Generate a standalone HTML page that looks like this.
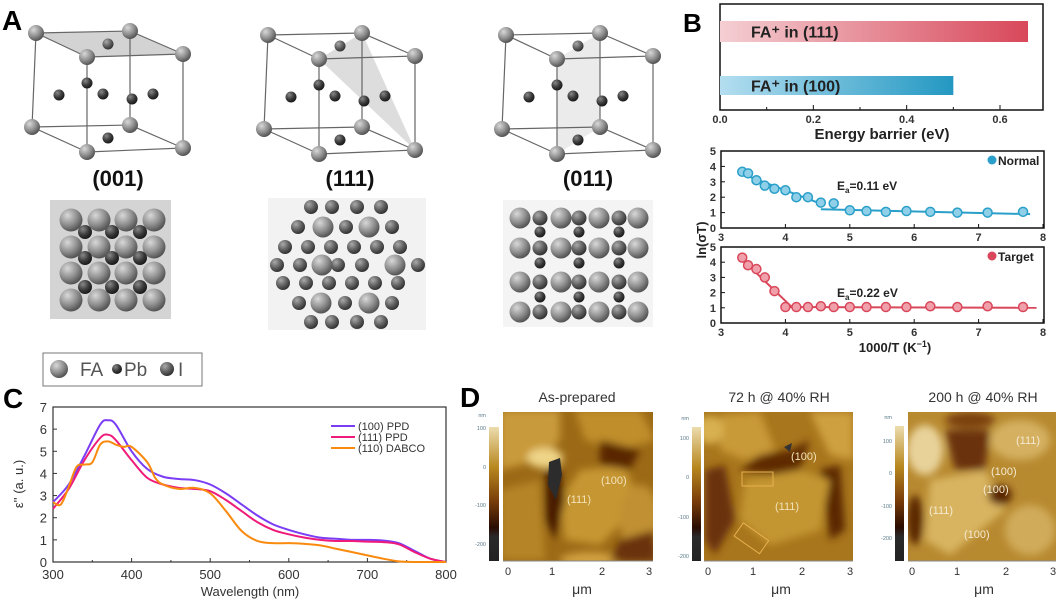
<!DOCTYPE html>
<html><head><meta charset="utf-8"><style>
html,body{margin:0;padding:0;background:#fff;}
svg{display:block;font-family:"Liberation Sans",sans-serif;}
</style></head><body>
<svg id="root" width="1059" height="600" viewBox="0 0 1059 600">
<defs>
<radialGradient id="gBig" cx="35%" cy="30%" r="70%"><stop offset="0" stop-color="#d8d8d8"/><stop offset="0.6" stop-color="#8e8e8e"/><stop offset="1" stop-color="#555"/></radialGradient>
<radialGradient id="gDark" cx="35%" cy="30%" r="70%"><stop offset="0" stop-color="#888"/><stop offset="0.6" stop-color="#3a3a3a"/><stop offset="1" stop-color="#1a1a1a"/></radialGradient>
<radialGradient id="gMid" cx="35%" cy="30%" r="70%"><stop offset="0" stop-color="#aaa"/><stop offset="0.6" stop-color="#5e5e5e"/><stop offset="1" stop-color="#333"/></radialGradient>
<linearGradient id="barRed" x1="0" x2="1"><stop offset="0" stop-color="#f4cfd3"/><stop offset="1" stop-color="#d8485a"/></linearGradient>
<linearGradient id="barBlue" x1="0" x2="1"><stop offset="0" stop-color="#b4def0"/><stop offset="1" stop-color="#2398c2"/></linearGradient>
<linearGradient id="cbar" x1="0" y1="0" x2="0" y2="1"><stop offset="0" stop-color="#ecdcae"/><stop offset="0.3" stop-color="#b8881f"/><stop offset="0.55" stop-color="#7a3e0a"/><stop offset="0.75" stop-color="#2a0c02"/><stop offset="0.82" stop-color="#2a2a2a"/><stop offset="1" stop-color="#222"/></linearGradient>
<filter id="blur4"><feGaussianBlur stdDeviation="4"/></filter>
<clipPath id="c1"><rect x="503" y="412" width="150" height="149"/></clipPath>
<clipPath id="c2"><rect x="704" y="412" width="149" height="149"/></clipPath>
<clipPath id="c3"><rect x="908" y="412" width="148" height="149"/></clipPath>
</defs>

<text x="2" y="30" font-size="28" font-weight="bold">A</text>
<text x="683" y="32" font-size="26" font-weight="bold">B</text>
<text x="3" y="408" font-size="28" font-weight="bold">C</text>
<text x="460" y="407" font-size="28" font-weight="bold">D</text>

<g id="panelA"></g>
<g id="panelB"></g>
<g id="panelC"></g>

<g>
  <text x="577" y="402" font-size="14" text-anchor="middle" fill="#333">As-prepared</text>
  <text x="779" y="402" font-size="14" text-anchor="middle" fill="#333">72 h @ 40% RH</text>
  <text x="983" y="402" font-size="14" text-anchor="middle" fill="#333">200 h @ 40% RH</text>

  <g clip-path="url(#c1)">
    <rect x="503" y="412" width="150" height="149" fill="#9c6a16"/>
    <g filter="url(#blur4)">
      <path d="M500 410 L560 410 L560 440 L540 460 L500 470Z" fill="#c99a3a"/>
      <ellipse cx="545" cy="458" rx="18" ry="10" fill="#efd487"/>
      <path d="M575 410 L640 410 L655 440 L620 450 L585 440Z" fill="#c08e2a"/>
      <path d="M580 470 L625 465 L640 505 L600 545 L565 540 L560 500Z" fill="#c69630"/>
      <path d="M500 490 L540 480 L545 560 L500 560Z" fill="#b58425"/>
      <ellipse cx="640" cy="520" rx="20" ry="35" fill="#c09030"/>
      <ellipse cx="590" cy="560" rx="30" ry="8" fill="#d0a040"/>
      <path d="M600 440 L640 450 L630 470 L600 465Z" fill="#5a2606"/>
      <path d="M545 470 L560 468 L565 500 L555 540 L545 520Z" fill="#4a1c04"/>
      <path d="M620 540 L655 530 L655 561 L610 561Z" fill="#6a330a"/>
    </g>
    <path d="M549 462 L560 458 L562 475 L556 500 L548 485Z" fill="#2c2c2c"/>
    <text x="601" y="484" font-size="11" fill="#f2e2b8">(100)</text>
    <text x="567" y="503" font-size="11" fill="#f2e2b8">(111)</text>
  </g>
  <g clip-path="url(#c2)">
    <rect x="704" y="412" width="149" height="149" fill="#a8761c"/>
    <g filter="url(#blur4)">
      <path d="M720 415 L760 412 L775 450 L745 460 L720 450Z" fill="#c99a38"/>
      <path d="M810 412 L853 412 L853 460 L830 455Z" fill="#cfa040"/>
      <path d="M740 470 L760 455 L790 450 L810 440 L800 470 L770 475Z" fill="#5e2a06"/>
      <path d="M705 470 L725 465 L735 520 L715 555 L705 540Z" fill="#6a3008"/>
      <path d="M820 470 L840 465 L845 530 L830 540Z" fill="#5a2606"/>
      <path d="M745 480 L800 470 L830 480 L820 530 L770 545 L740 520Z" fill="#c49632"/>
      <ellipse cx="710" cy="430" rx="14" ry="14" fill="#d8b050"/>
    </g>
    <path d="M784 447 L792 443 L790 452Z" fill="#333"/>
    <rect x="742" y="472" width="31" height="14" fill="none" stroke="#e8b050" stroke-width="1"/>
    <rect x="736" y="530" width="31" height="16" fill="none" stroke="#e8b050" stroke-width="1" transform="rotate(35 751 538)"/>
    <text x="791" y="460" font-size="11" fill="#f2e2b8">(100)</text>
    <text x="775" y="510" font-size="11" fill="#f2e2b8">(111)</text>
  </g>
  <g clip-path="url(#c3)">
    <rect x="908" y="412" width="148" height="149" fill="#b88a30"/>
    <g filter="url(#blur4)">
      <ellipse cx="925" cy="450" rx="18" ry="25" fill="#e8d29a"/>
      <path d="M945 430 L990 430 L985 470 L955 470Z" fill="#6a3008"/>
      <path d="M930 480 L985 470 L1005 510 L950 555 L925 540Z" fill="#d8b460"/>
      <ellipse cx="1020" cy="440" rx="30" ry="20" fill="#d4b060"/>
      <ellipse cx="1000" cy="495" rx="12" ry="10" fill="#5a2606"/>
      <ellipse cx="915" cy="520" rx="8" ry="25" fill="#5a2606"/>
      <ellipse cx="1030" cy="530" rx="25" ry="25" fill="#d0ab5a"/>
      <ellipse cx="970" cy="420" rx="25" ry="8" fill="#7a4010"/>
    </g>
    <text x="1016" y="444" font-size="11" fill="#f5ead0">(111)</text>
    <text x="991" y="475" font-size="11" fill="#f5ead0">(100)</text>
    <text x="983" y="493" font-size="11" fill="#f5ead0">(100)</text>
    <text x="929" y="514" font-size="11" fill="#f5ead0">(111)</text>
    <text x="964" y="538" font-size="11" fill="#f5ead0">(100)</text>
  </g>
  <rect x="489" y="427" width="10" height="134" fill="url(#cbar)"/>
  <rect x="692" y="427" width="9" height="134" fill="url(#cbar)"/>
  <rect x="895" y="426" width="9" height="135" fill="url(#cbar)"/>
  <g font-size="5.5" fill="#5a7a8a" text-anchor="end">
    <text x="486" y="417">nm</text><text x="486" y="430">100</text><text x="486" y="469">0</text><text x="486" y="507">-100</text><text x="486" y="546">-200</text>
    <text x="689" y="420">nm</text><text x="689" y="440">100</text><text x="689" y="479">0</text><text x="689" y="519">-100</text><text x="689" y="558">-200</text>
    <text x="892" y="419">nm</text><text x="892" y="443">100</text><text x="892" y="475">0</text><text x="892" y="508">-100</text><text x="892" y="540">-200</text>
  </g>
  <g font-size="11" fill="#333" text-anchor="middle">
    <text x="508" y="575">0</text><text x="552" y="575">1</text><text x="602" y="575">2</text><text x="649" y="575">3</text>
    <text x="708" y="575">0</text><text x="753" y="575">1</text><text x="802" y="575">2</text><text x="850" y="575">3</text>
    <text x="912" y="575">0</text><text x="957" y="575">1</text><text x="1006" y="575">2</text><text x="1053" y="575">3</text>
    <text x="582" y="594" font-size="14">μm</text>
    <text x="781" y="594" font-size="14">μm</text>
    <text x="984" y="594" font-size="14">μm</text>
  </g>
  <g stroke="#888" stroke-width="1">
    <line x1="503" y1="561" x2="653" y2="561"/><line x1="704" y1="561" x2="853" y2="561"/><line x1="908" y1="561" x2="1056" y2="561"/>
  </g>
</g>
</svg>

<script>
// ---------- Panel B data ----------
const barCats = ["FA⁺ in (111)", "FA⁺ in (100)"];
const barVals = [0.66, 0.50];
const barTicks = [0.0, 0.2, 0.4, 0.6];
const lnTicksX = [3, 4, 5, 6, 7, 8];
const lnTicksY = [0, 1, 2, 3, 4, 5];
const invT = [3.33,3.42,3.55,3.68,3.83,4.0,4.17,4.35,4.55,4.75,5.0,5.26,5.56,5.88,6.25,6.67,7.14,7.69];
const normalVals = [3.65,3.55,3.1,2.75,2.55,2.45,2.0,2.0,1.65,1.6,1.15,1.1,1.05,1.1,1.05,1.0,1.0,1.05];
const targetVals = [4.3,3.8,3.55,3.0,2.1,1.05,1.05,1.05,1.1,1.05,1.05,1.05,1.05,1.05,1.1,1.05,1.1,1.05];
const normalFitX = [3.3, 4.6, 4.55, 7.8];
const normalFitY = [3.55, 1.5, 1.22, 0.9];
const targetFitX = [3.3, 4.1, 4.0, 7.9];
const targetFitY = [4.3, 1.05, 1.05, 1.0];
// ---------- Panel C data ----------
const wl100 = [300,320,340,360,370,380,400,420,440,460,480,500,520,540,560,580,600,620,640,660,680,700,720,740,760,780,800];
const ppd100 = [2.7,3.5,4.8,6.2,6.4,6.2,5.0,4.2,3.85,3.75,3.7,3.5,3.1,2.6,2.1,1.7,1.45,1.25,1.1,1.05,1.0,1.0,0.97,0.85,0.5,0.15,0];
const ppd111 = [2.4,3.3,4.6,5.6,5.75,5.5,4.6,3.8,3.5,3.35,3.3,3.2,2.8,2.3,1.8,1.45,1.25,1.1,1.0,0.95,0.95,0.92,0.9,0.8,0.45,0.15,0];
const wlDabco = [300,310,320,330,340,350,360,370,380,390,400,420,430,440,460,480,500,520,540,560,580,600,620,640,660,680,700,720,740,760,800];
const dabco = [2.7,2.6,3.4,4.3,4.4,4.5,5.3,5.45,5.3,5.2,5.2,4.5,3.8,3.5,3.3,3.35,3.1,2.3,1.4,0.95,0.85,0.85,0.82,0.75,0.6,0.45,0.3,0.15,0.03,0,0];
const cTicksX = [300,400,500,600,700,800];
const cTicksY = [0,1,2,3,4,5,6,7];
const cSeriesNames = ["(100) PPD","(111) PPD","(110) DABCO"];

const NS = "http://www.w3.org/2000/svg";
function mk(tag, attrs, parent, txt){const e=document.createElementNS(NS,tag);for(const k in attrs)e.setAttribute(k,attrs[k]);if(txt!==undefined)e.textContent=txt;parent.appendChild(e);return e;}
function smooth(pts){let d="M"+pts[0][0]+" "+pts[0][1];for(let i=0;i<pts.length-1;i++){const p0=pts[i-1]||pts[i],p1=pts[i],p2=pts[i+1],p3=pts[i+2]||p2;const c1=[p1[0]+(p2[0]-p0[0])/6,p1[1]+(p2[1]-p0[1])/6],c2=[p2[0]-(p3[0]-p1[0])/6,p2[1]-(p3[1]-p1[1])/6];d+=" C"+c1[0]+" "+c1[1]+" "+c2[0]+" "+c2[1]+" "+p2[0]+" "+p2[1];}return d;}

// ---------- Panel A ----------
(function(){
  const g=document.getElementById("panelA");
  const base={BTL:[36,33],BTR:[130,31],FTL:[87,57],FTR:[183,54],BBL:[32,127],BBR:[130,125],FBL:[87,152],FBR:[183,148]};
  const inner=[[108,44,"gMid"],[87,83,"gDark"],[59,95,"gDark"],[103,94,"gDark"],[132,99,"gDark"],[153,94,"gDark"],[108,138,"gDark"]];
  const offs=[0,232,470];const labels=["(001)","(111)","(011)"];
  offs.forEach((ox,ci)=>{
    const c={};for(const k in base)c[k]=[base[k][0]+ox,base[k][1]+(ci?2:0)];
    const cube=mk("g",{},g);
    
    
    const P=a=>a.map(k=>c[k].join(",")).join(" ");
    if(ci===0)mk("polygon",{points:P(["BTL","BTR","FTR","FTL"]),fill:"#c8c8c8",opacity:0.8},cube);
    if(ci===1)mk("polygon",{points:P(["FTL","BTR","FBR"]),fill:"#d4d4d4",opacity:0.8},cube);
    if(ci===2)mk("polygon",{points:P(["FTL","BTR","BBR","FBL"]),fill:"#e6e6e6",opacity:0.8},cube);
    const edges=[["BTL","BTR"],["BTR","FTR"],["FTR","FTL"],["FTL","BTL"],["BBL","BBR"],["BBR","FBR"],["FBR","FBL"],["FBL","BBL"],["BTL","BBL"],["BTR","BBR"],["FTL","FBL"],["FTR","FBR"]];
    edges.forEach(e=>mk("line",{x1:c[e[0]][0],y1:c[e[0]][1],x2:c[e[1]][0],y2:c[e[1]][1],stroke:"#666","stroke-width":1.2},cube));
    inner.forEach(p=>mk("circle",{cx:p[0]+ox,cy:p[1]+(ci?2:0),r:5.5,fill:"url(#"+p[2]+")"},cube));
    for(const k in c)mk("circle",{cx:c[k][0],cy:c[k][1],r:8,fill:"url(#gBig)"},cube);
    const t=mk("text",{x:118+ox,y:186,"font-size":22,"font-weight":"bold","text-anchor":"middle",fill:"#111"},g,labels[ci]);
    
    
  });
  const s1=mk("g",{},g);
  
  
  mk("rect",{x:50,y:200,width:121,height:119,fill:"#d4d4d4"},s1);
  [71,99,126,154].forEach(x=>[220,247,273,300].forEach(y=>mk("circle",{cx:x,cy:y,r:11.5,fill:"url(#gBig)"},s1)));
  [85,112,140].forEach(x=>[232,258,287].forEach(y=>mk("circle",{cx:x,cy:y,r:7,fill:"url(#gDark)"},s1)));
  const s2=mk("g",{},g);
  
  
  mk("rect",{x:268,y:198,width:158,height:132,fill:"#f2f2f2"},s2);
  const rows=[[207,[311,332,357,381],[]],[227,[298,346,392],[323,369]],[247,[285,308,331,354,377,400],[]],[265,[277,300,338,362,418],[322,395]],[283,[283,306,329,352,375,398],[]],[303,[299,345,392],[321,369]],[322,[311,332,357,381],[]]];
  rows.forEach(r=>{r[1].forEach(x=>mk("circle",{cx:x,cy:r[0],r:7,fill:"url(#gMid)"},s2));r[2].forEach(x=>mk("circle",{cx:x,cy:r[0],r:10.5,fill:"url(#gBig)"},s2));});
  const s3=mk("g",{},g);
  
  
  mk("rect",{x:503,y:200,width:150,height:127,fill:"#f4f4f4"},s3);
  const cx3=[520,540,561,579,599,619,638];
  [218,248,282,312].forEach(y=>cx3.forEach((x,i)=>mk("circle",{cx:x,cy:y,r:i%2?7.5:10.5,fill:i%2?"url(#gMid)":"url(#gBig)"},s3)));
  [540,579,619].forEach(x=>[232,263,297].forEach(y=>mk("circle",{cx:x,cy:y,r:5.5,fill:"url(#gDark)"},s3)));
  const lg=mk("g",{},g);
  
  
  mk("rect",{x:43,y:353,width:159,height:33,fill:"#fff",stroke:"#777","stroke-width":1},lg);
  mk("circle",{cx:59,cy:369,r:9,fill:"url(#gBig)"},lg);
  mk("text",{x:80,y:376,"font-size":19,fill:"#555"},lg,"FA");
  mk("circle",{cx:117,cy:369,r:5,fill:"url(#gDark)"},lg);
  mk("text",{x:124,y:376,"font-size":19,fill:"#555"},lg,"Pb");
  mk("circle",{cx:167,cy:369,r:7,fill:"url(#gMid)"},lg);
  mk("text",{x:178,y:376,"font-size":19,fill:"#555"},lg,"I");
})();

// ---------- Panel B ----------
(function(){
  const g=document.getElementById("panelB");
  const bx=v=>720+v*(280/0.6);
  mk("rect",{x:720,y:4,width:323,height:106,fill:"none",stroke:"#111","stroke-width":1.5},g);
  const barY=[21,76],barH=[21,19],fills=["url(#barRed)","url(#barBlue)"];
  barVals.forEach((v,i)=>{
    const r=mk("rect",{x:bx(0),y:barY[i],width:bx(v)-bx(0),height:barH[i],fill:fills[i]},g);
    
    
    mk("text",{x:751,y:barY[i]+barH[i]/2+6,"font-size":16,"font-weight":"bold",fill:"#222"},g,barCats[i]);
  });
  barTicks.forEach(t=>{mk("line",{x1:bx(t),y1:110,x2:bx(t),y2:105,stroke:"#111"},g);mk("text",{x:bx(t),y:123,"font-size":11,"font-weight":"bold","text-anchor":"middle",fill:"#333"},g,t.toFixed(1));});
  [0.1,0.3,0.5].forEach(t=>mk("line",{x1:bx(t),y1:110,x2:bx(t),y2:107,stroke:"#111"},g));
  const bt=mk("text",{x:882,y:139,"font-size":15,"font-weight":"bold","text-anchor":"middle",fill:"#222"},g,"Energy barrier (eV)");
  
  

  function lnPlot(top,bot,vals,fx,fy,color,fill,name,ea,eaY){
    const x=v=>721+(v-3)*64.4, y=v=>bot-v*(bot-top)/5;
    mk("rect",{x:721,y:top,width:323,height:bot-top,fill:"none",stroke:"#111","stroke-width":1.5},g);
    lnTicksY.forEach(t=>{mk("line",{x1:721,y1:y(t),x2:725,y2:y(t),stroke:"#111"},g);mk("text",{x:716,y:y(t)+4,"font-size":11,"font-weight":"bold","text-anchor":"end",fill:"#333"},g,t);});
    lnTicksX.forEach(t=>{mk("line",{x1:x(t),y1:bot,x2:x(t),y2:bot-4,stroke:"#111"},g);mk("text",{x:x(t),y:bot+13,"font-size":11,"font-weight":"bold","text-anchor":"middle",fill:"#333"},g,t);});
    for(let i=0;i+1<fx.length;i+=2){const l=mk("line",{x1:x(fx[i]),y1:y(fy[i]),x2:x(fx[i+1]),y2:y(fy[i+1]),stroke:color,"stroke-width":2},g);
      
      }
    invT.forEach((t,i)=>{const c=mk("circle",{cx:x(t),cy:y(vals[i]),r:4.5,fill:fill,stroke:color,"stroke-width":1.5},g);
      
      });
    mk("circle",{cx:992,cy:top+9,r:4.5,fill:color},g);
    mk("text",{x:998,y:top+14,"font-size":12,"font-weight":"bold",fill:"#222"},g,name[0].toUpperCase()+name.slice(1));
    const e=mk("text",{x:837,y:eaY,"font-size":12,"font-weight":"bold",fill:"#222"},g,"E");
    mk("tspan",{"font-size":8,dy:3},e,"a");
    mk("tspan",{dy:-3},e,"="+ea+" eV");
  }
  lnPlot(151,228,normalVals,normalFitX,normalFitY,"#2a9fc9","#8fd0e8","normal","0.11",190);
  lnPlot(247,323,targetVals,targetFitX,targetFitY,"#d9475a","#f0a0aa","target","0.22",297);
  const xt=mk("text",{x:895,y:352,"font-size":13,"font-weight":"bold","text-anchor":"middle",fill:"#222"},g,"1000/T (K");
  mk("tspan",{"font-size":9,dy:-5},xt,"−1");
  mk("tspan",{dy:5},xt,")");
  
  
  const yt=mk("text",{x:0,y:0,"font-size":13,"font-weight":"bold","text-anchor":"middle",fill:"#222",transform:"translate(706 240) rotate(-90)"},g,"ln(σT)");
  
  
})();

// ---------- Panel C ----------
(function(){
  const g=document.getElementById("panelC");
  const x=w=>53+(w-300)*393/500, y=v=>562-v*155/7;
  mk("rect",{x:53,y:407,width:393,height:155,fill:"none",stroke:"#333","stroke-width":1.2},g);
  cTicksY.forEach(t=>{mk("line",{x1:53,y1:y(t),x2:57,y2:y(t),stroke:"#333"},g);mk("text",{x:47,y:y(t)+5,"font-size":13,"text-anchor":"end",fill:"#333"},g,t);});
  cTicksX.forEach(t=>{mk("line",{x1:x(t),y1:562,x2:x(t),y2:558,stroke:"#333"},g);mk("text",{x:x(t),y:579,"font-size":13,"text-anchor":"middle",fill:"#333"},g,t);});
  for(let w=350;w<800;w+=100)mk("line",{x1:x(w),y1:562,x2:x(w),y2:560,stroke:"#333"},g);
  const series=[[wl100,ppd100,"#7a3cf5"],[wl100,ppd111,"#ef1b7a"],[wlDabco,dabco,"#f98a0d"]];
  series.forEach((s,i)=>{
    const p=mk("path",{d:smooth(s[0].map((w,j)=>[x(w),y(s[1][j])])),fill:"none",stroke:s[2],"stroke-width":2},g);
    
    
    mk("line",{x1:331,y1:426+i*11,x2:355,y2:426+i*11,stroke:s[2],"stroke-width":2},g);
    const t=mk("text",{x:358,y:430+i*11,"font-size":11,fill:"#333"},g,cSeriesNames[i]);
    
    
  });
  const xt=mk("text",{x:250,y:596,"font-size":13,"text-anchor":"middle",fill:"#333"},g,"Wavelength (nm)");
  
  
  const yt=mk("text",{x:0,y:0,"font-size":13,"text-anchor":"middle",fill:"#333",transform:"translate(23 484) rotate(-90)"},g,"ε'' (a. u.)");
  
  
})();
</script>
</body></html>
